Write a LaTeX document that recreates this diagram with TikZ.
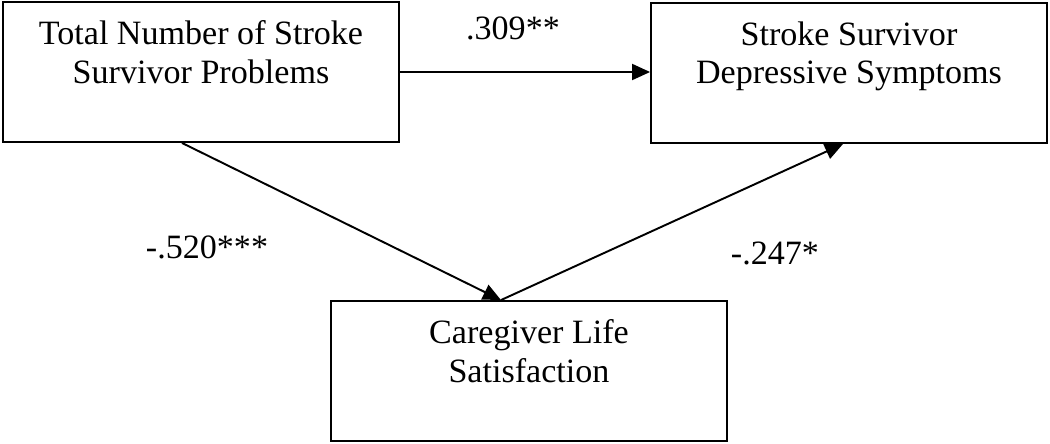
\documentclass[tikz,border=0pt]{standalone}
\usepackage{fontspec}
\setmainfont{Liberation Serif}
\usetikzlibrary{calc, positioning, arrows.meta}
\tikzset{
	box/.style = {draw, line width=1.1pt, minimum width=7.92cm, minimum height=2.8cm, inner sep=0pt},
	title/.style = {anchor=north, yshift=-0.38cm, align=center, inner sep=0pt, font=\fontsize{19.4}{22}\selectfont},
	link/.style = {line width=1.1pt, -{Triangle[length=0.36cm, width=0.32cm]}},
	coef/.style = {font=\fontsize{19.4}{22.2}\selectfont},
}

\begin{document}
\begin{tikzpicture}[x=0.02cm, y=-0.02cm]
	\useasboundingbox (0,0) rectangle (1050,443);
	\node[box, label={[title]north:{Total Number of Stroke\\Survivor Problems}}] (prob) at (201,72) {};
	\node[box, label={[title]north:{Stroke Survivor\\Depressive Symptoms}}] (dep) at (849,73) {};
	\node[box, label={[title]north:{Caregiver Life\\Satisfaction}}] (sat) at (529,371) {};
	\coordinate (meet) at ($(sat.north)+(-28,0)$);
	\draw[link] (prob.east) -- (prob.east -| dep.west);
	\draw[link] ($(prob.south)+(-19,0)$) -- (meet);
	\draw[link] (meet) -- ($(dep.south)+(-6,0)$);
	\node[coef] (c1) at (513,28) {.309**};
	\node[coef] (c2) at (207,247) {-.520***};
	\node[coef] (c3) at (775,253) {-.247*};
\end{tikzpicture}
\end{document}
